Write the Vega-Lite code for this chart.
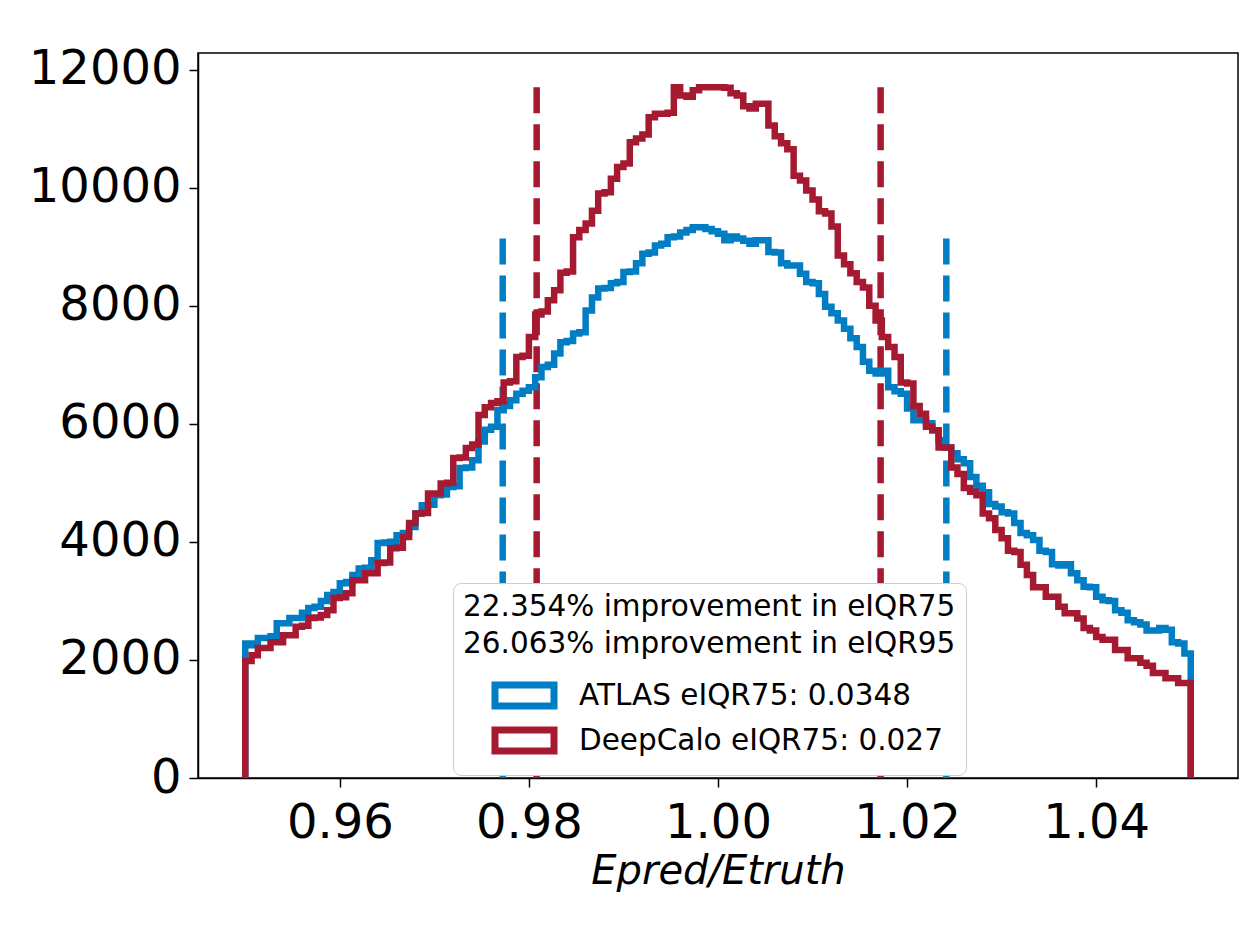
{
  "$schema": "https://vega.github.io/schema/vega-lite/v6.json",
  "width": 1040,
  "height": 725,
  "autosize": {"type": "none"},
  "padding": {"left": 198, "top": 53, "right": 16, "bottom": 148},
  "background": "white",
  "config": {
    "font": "DejaVu Sans",
    "view": {"stroke": "black", "strokeWidth": 1.5},
    "axis": {"grid": false, "domainColor": "black", "domainWidth": 1.5, "tickColor": "black", "tickWidth": 1.5, "tickSize": 9, "labelColor": "black", "labelFont": "DejaVu Sans", "labelFontSize": 48, "titleColor": "black", "titleFont": "DejaVu Sans"}
  },
  "datasets": {
    "iqr": [
      {"s": "ATLAS", "x": 0.97723, "top": 9140},
      {"s": "ATLAS", "x": 1.02415, "top": 9140},
      {"s": "DeepCalo", "x": 0.98082, "top": 11700},
      {"s": "DeepCalo", "x": 1.0172, "top": 11700}
    ],
    "hist": [
      {"i": 0, "e": 0.95, "ATLAS": 0, "DeepCalo": 0},
      {"i": 1, "e": 0.95, "ATLAS": 2280, "DeepCalo": 1980},
      {"i": 2, "e": 0.95067, "ATLAS": 2250, "DeepCalo": 2080},
      {"i": 3, "e": 0.95133, "ATLAS": 2370, "DeepCalo": 2200},
      {"i": 4, "e": 0.952, "ATLAS": 2370, "DeepCalo": 2200},
      {"i": 5, "e": 0.95267, "ATLAS": 2400, "DeepCalo": 2300},
      {"i": 6, "e": 0.95333, "ATLAS": 2620, "DeepCalo": 2300},
      {"i": 7, "e": 0.954, "ATLAS": 2620, "DeepCalo": 2420},
      {"i": 8, "e": 0.95467, "ATLAS": 2710, "DeepCalo": 2420},
      {"i": 9, "e": 0.95533, "ATLAS": 2710, "DeepCalo": 2560},
      {"i": 10, "e": 0.956, "ATLAS": 2800, "DeepCalo": 2580},
      {"i": 11, "e": 0.95667, "ATLAS": 2880, "DeepCalo": 2710},
      {"i": 12, "e": 0.95733, "ATLAS": 2900, "DeepCalo": 2720},
      {"i": 13, "e": 0.958, "ATLAS": 3000, "DeepCalo": 2760},
      {"i": 14, "e": 0.95867, "ATLAS": 3100, "DeepCalo": 2840},
      {"i": 15, "e": 0.95933, "ATLAS": 3150, "DeepCalo": 3050},
      {"i": 16, "e": 0.96, "ATLAS": 3300, "DeepCalo": 3060},
      {"i": 17, "e": 0.96067, "ATLAS": 3320, "DeepCalo": 3130},
      {"i": 18, "e": 0.96133, "ATLAS": 3440, "DeepCalo": 3350},
      {"i": 19, "e": 0.962, "ATLAS": 3550, "DeepCalo": 3350},
      {"i": 20, "e": 0.96267, "ATLAS": 3560, "DeepCalo": 3470},
      {"i": 21, "e": 0.96333, "ATLAS": 3690, "DeepCalo": 3470},
      {"i": 22, "e": 0.964, "ATLAS": 3980, "DeepCalo": 3640},
      {"i": 23, "e": 0.96467, "ATLAS": 3990, "DeepCalo": 3650},
      {"i": 24, "e": 0.96533, "ATLAS": 4000, "DeepCalo": 3890},
      {"i": 25, "e": 0.966, "ATLAS": 4110, "DeepCalo": 3900},
      {"i": 26, "e": 0.96667, "ATLAS": 4150, "DeepCalo": 4080},
      {"i": 27, "e": 0.96733, "ATLAS": 4250, "DeepCalo": 4320},
      {"i": 28, "e": 0.968, "ATLAS": 4480, "DeepCalo": 4480},
      {"i": 29, "e": 0.96867, "ATLAS": 4620, "DeepCalo": 4490},
      {"i": 30, "e": 0.96933, "ATLAS": 4630, "DeepCalo": 4820},
      {"i": 31, "e": 0.97, "ATLAS": 4790, "DeepCalo": 4820},
      {"i": 32, "e": 0.97067, "ATLAS": 4800, "DeepCalo": 4990},
      {"i": 33, "e": 0.97133, "ATLAS": 4930, "DeepCalo": 5000},
      {"i": 34, "e": 0.972, "ATLAS": 4940, "DeepCalo": 5420},
      {"i": 35, "e": 0.97267, "ATLAS": 5250, "DeepCalo": 5430},
      {"i": 36, "e": 0.97333, "ATLAS": 5260, "DeepCalo": 5590},
      {"i": 37, "e": 0.974, "ATLAS": 5380, "DeepCalo": 5650},
      {"i": 38, "e": 0.97467, "ATLAS": 5700, "DeepCalo": 6150},
      {"i": 39, "e": 0.97533, "ATLAS": 5900, "DeepCalo": 6280},
      {"i": 40, "e": 0.976, "ATLAS": 5950, "DeepCalo": 6350},
      {"i": 41, "e": 0.97667, "ATLAS": 6230, "DeepCalo": 6380},
      {"i": 42, "e": 0.97733, "ATLAS": 6300, "DeepCalo": 6700},
      {"i": 43, "e": 0.978, "ATLAS": 6400, "DeepCalo": 6720},
      {"i": 44, "e": 0.97867, "ATLAS": 6510, "DeepCalo": 7130},
      {"i": 45, "e": 0.97933, "ATLAS": 6560, "DeepCalo": 7150},
      {"i": 46, "e": 0.98, "ATLAS": 6620, "DeepCalo": 7470},
      {"i": 47, "e": 0.98067, "ATLAS": 6790, "DeepCalo": 7850},
      {"i": 48, "e": 0.98133, "ATLAS": 6960, "DeepCalo": 7900},
      {"i": 49, "e": 0.982, "ATLAS": 7000, "DeepCalo": 8090},
      {"i": 50, "e": 0.98267, "ATLAS": 7190, "DeepCalo": 8260},
      {"i": 51, "e": 0.98333, "ATLAS": 7380, "DeepCalo": 8560},
      {"i": 52, "e": 0.984, "ATLAS": 7400, "DeepCalo": 8580},
      {"i": 53, "e": 0.98467, "ATLAS": 7530, "DeepCalo": 9160},
      {"i": 54, "e": 0.98533, "ATLAS": 7550, "DeepCalo": 9280},
      {"i": 55, "e": 0.986, "ATLAS": 7920, "DeepCalo": 9390},
      {"i": 56, "e": 0.98667, "ATLAS": 8140, "DeepCalo": 9610},
      {"i": 57, "e": 0.98733, "ATLAS": 8290, "DeepCalo": 9900},
      {"i": 58, "e": 0.988, "ATLAS": 8300, "DeepCalo": 9920},
      {"i": 59, "e": 0.98867, "ATLAS": 8380, "DeepCalo": 10150},
      {"i": 60, "e": 0.98933, "ATLAS": 8400, "DeepCalo": 10350},
      {"i": 61, "e": 0.99, "ATLAS": 8570, "DeepCalo": 10410},
      {"i": 62, "e": 0.99067, "ATLAS": 8580, "DeepCalo": 10770},
      {"i": 63, "e": 0.99133, "ATLAS": 8720, "DeepCalo": 10830},
      {"i": 64, "e": 0.992, "ATLAS": 8880, "DeepCalo": 10900},
      {"i": 65, "e": 0.99267, "ATLAS": 8900, "DeepCalo": 11190},
      {"i": 66, "e": 0.99333, "ATLAS": 9020, "DeepCalo": 11250},
      {"i": 67, "e": 0.994, "ATLAS": 9050, "DeepCalo": 11250},
      {"i": 68, "e": 0.99467, "ATLAS": 9160, "DeepCalo": 11270},
      {"i": 69, "e": 0.99533, "ATLAS": 9170, "DeepCalo": 11700},
      {"i": 70, "e": 0.996, "ATLAS": 9240, "DeepCalo": 11560},
      {"i": 71, "e": 0.99667, "ATLAS": 9280, "DeepCalo": 11540},
      {"i": 72, "e": 0.99733, "ATLAS": 9330, "DeepCalo": 11650},
      {"i": 73, "e": 0.998, "ATLAS": 9330, "DeepCalo": 11700},
      {"i": 74, "e": 0.99867, "ATLAS": 9300, "DeepCalo": 11700},
      {"i": 75, "e": 0.99933, "ATLAS": 9260, "DeepCalo": 11700},
      {"i": 76, "e": 1.0, "ATLAS": 9220, "DeepCalo": 11700},
      {"i": 77, "e": 1.00067, "ATLAS": 9110, "DeepCalo": 11690},
      {"i": 78, "e": 1.00133, "ATLAS": 9170, "DeepCalo": 11600},
      {"i": 79, "e": 1.002, "ATLAS": 9140, "DeepCalo": 11560},
      {"i": 80, "e": 1.00267, "ATLAS": 9100, "DeepCalo": 11380},
      {"i": 81, "e": 1.00333, "ATLAS": 9050, "DeepCalo": 11340},
      {"i": 82, "e": 1.004, "ATLAS": 9110, "DeepCalo": 11420},
      {"i": 83, "e": 1.00467, "ATLAS": 9110, "DeepCalo": 11420},
      {"i": 84, "e": 1.00533, "ATLAS": 8910, "DeepCalo": 11050},
      {"i": 85, "e": 1.006, "ATLAS": 8900, "DeepCalo": 10870},
      {"i": 86, "e": 1.00667, "ATLAS": 8720, "DeepCalo": 10750},
      {"i": 87, "e": 1.00733, "ATLAS": 8680, "DeepCalo": 10650},
      {"i": 88, "e": 1.008, "ATLAS": 8680, "DeepCalo": 10200},
      {"i": 89, "e": 1.00867, "ATLAS": 8540, "DeepCalo": 10120},
      {"i": 90, "e": 1.00933, "ATLAS": 8400, "DeepCalo": 9950},
      {"i": 91, "e": 1.01, "ATLAS": 8380, "DeepCalo": 9800},
      {"i": 92, "e": 1.01067, "ATLAS": 8200, "DeepCalo": 9600},
      {"i": 93, "e": 1.01133, "ATLAS": 7980, "DeepCalo": 9560},
      {"i": 94, "e": 1.012, "ATLAS": 7870, "DeepCalo": 9340},
      {"i": 95, "e": 1.01267, "ATLAS": 7750, "DeepCalo": 8850},
      {"i": 96, "e": 1.01333, "ATLAS": 7610, "DeepCalo": 8700},
      {"i": 97, "e": 1.014, "ATLAS": 7450, "DeepCalo": 8550},
      {"i": 98, "e": 1.01467, "ATLAS": 7300, "DeepCalo": 8400},
      {"i": 99, "e": 1.01533, "ATLAS": 7050, "DeepCalo": 8310},
      {"i": 100, "e": 1.016, "ATLAS": 6900, "DeepCalo": 8000},
      {"i": 101, "e": 1.01667, "ATLAS": 6850, "DeepCalo": 7750},
      {"i": 102, "e": 1.01733, "ATLAS": 6900, "DeepCalo": 7470},
      {"i": 103, "e": 1.018, "ATLAS": 6620, "DeepCalo": 7300},
      {"i": 104, "e": 1.01867, "ATLAS": 6550, "DeepCalo": 7130},
      {"i": 105, "e": 1.01933, "ATLAS": 6510, "DeepCalo": 6700},
      {"i": 106, "e": 1.02, "ATLAS": 6260, "DeepCalo": 6680},
      {"i": 107, "e": 1.02067, "ATLAS": 6060, "DeepCalo": 6300},
      {"i": 108, "e": 1.02133, "ATLAS": 6060, "DeepCalo": 6170},
      {"i": 109, "e": 1.022, "ATLAS": 6010, "DeepCalo": 5950},
      {"i": 110, "e": 1.02267, "ATLAS": 5890, "DeepCalo": 5890},
      {"i": 111, "e": 1.02333, "ATLAS": 5720, "DeepCalo": 5600},
      {"i": 112, "e": 1.024, "ATLAS": 5600, "DeepCalo": 5600},
      {"i": 113, "e": 1.02467, "ATLAS": 5500, "DeepCalo": 5260},
      {"i": 114, "e": 1.02533, "ATLAS": 5400, "DeepCalo": 5150},
      {"i": 115, "e": 1.026, "ATLAS": 5330, "DeepCalo": 4910},
      {"i": 116, "e": 1.02667, "ATLAS": 5100, "DeepCalo": 4850},
      {"i": 117, "e": 1.02733, "ATLAS": 4950, "DeepCalo": 4790},
      {"i": 118, "e": 1.028, "ATLAS": 4840, "DeepCalo": 4480},
      {"i": 119, "e": 1.02867, "ATLAS": 4640, "DeepCalo": 4400},
      {"i": 120, "e": 1.02933, "ATLAS": 4600, "DeepCalo": 4200},
      {"i": 121, "e": 1.03, "ATLAS": 4500, "DeepCalo": 4060},
      {"i": 122, "e": 1.03067, "ATLAS": 4480, "DeepCalo": 3850},
      {"i": 123, "e": 1.03133, "ATLAS": 4320, "DeepCalo": 3830},
      {"i": 124, "e": 1.032, "ATLAS": 4150, "DeepCalo": 3610},
      {"i": 125, "e": 1.03267, "ATLAS": 4110, "DeepCalo": 3440},
      {"i": 126, "e": 1.03333, "ATLAS": 4030, "DeepCalo": 3230},
      {"i": 127, "e": 1.034, "ATLAS": 3850, "DeepCalo": 3230},
      {"i": 128, "e": 1.03467, "ATLAS": 3830, "DeepCalo": 3070},
      {"i": 129, "e": 1.03533, "ATLAS": 3620, "DeepCalo": 3070},
      {"i": 130, "e": 1.036, "ATLAS": 3600, "DeepCalo": 2900},
      {"i": 131, "e": 1.03667, "ATLAS": 3620, "DeepCalo": 2790},
      {"i": 132, "e": 1.03733, "ATLAS": 3470, "DeepCalo": 2790},
      {"i": 133, "e": 1.038, "ATLAS": 3350, "DeepCalo": 2700},
      {"i": 134, "e": 1.03867, "ATLAS": 3240, "DeepCalo": 2540},
      {"i": 135, "e": 1.03933, "ATLAS": 3230, "DeepCalo": 2500},
      {"i": 136, "e": 1.04, "ATLAS": 3070, "DeepCalo": 2390},
      {"i": 137, "e": 1.04067, "ATLAS": 3010, "DeepCalo": 2340},
      {"i": 138, "e": 1.04133, "ATLAS": 3000, "DeepCalo": 2340},
      {"i": 139, "e": 1.042, "ATLAS": 2840, "DeepCalo": 2170},
      {"i": 140, "e": 1.04267, "ATLAS": 2800, "DeepCalo": 2170},
      {"i": 141, "e": 1.04333, "ATLAS": 2670, "DeepCalo": 2030},
      {"i": 142, "e": 1.044, "ATLAS": 2640, "DeepCalo": 2030},
      {"i": 143, "e": 1.04467, "ATLAS": 2600, "DeepCalo": 1950},
      {"i": 144, "e": 1.04533, "ATLAS": 2500, "DeepCalo": 1900},
      {"i": 145, "e": 1.046, "ATLAS": 2500, "DeepCalo": 1780},
      {"i": 146, "e": 1.04667, "ATLAS": 2540, "DeepCalo": 1780},
      {"i": 147, "e": 1.04733, "ATLAS": 2510, "DeepCalo": 1690},
      {"i": 148, "e": 1.048, "ATLAS": 2300, "DeepCalo": 1690},
      {"i": 149, "e": 1.04867, "ATLAS": 2280, "DeepCalo": 1610},
      {"i": 150, "e": 1.04933, "ATLAS": 2110, "DeepCalo": 1610},
      {"i": 151, "e": 1.05, "ATLAS": 2110, "DeepCalo": 1610},
      {"i": 152, "e": 1.05, "ATLAS": 0, "DeepCalo": 0}
    ]
  },
  "layer": [
    {
      "data": {"name": "iqr"},
      "mark": {"type": "rule", "strokeWidth": 6.5, "strokeDash": [26, 11], "strokeCap": "butt"},
      "encoding": {
        "x": {"field": "x", "type": "quantitative", "scale": {"domain": [0.945, 1.055], "nice": false, "zero": false}, "axis": {"title": "Epred/Etruth", "values": [0.96, 0.98, 1.0, 1.02, 1.04], "format": ".2f", "labelPadding": 12, "titleFontSize": 40, "titleFontStyle": "italic", "titleFontWeight": "normal", "titlePadding": 4}},
        "y": {"field": "top", "type": "quantitative", "scale": {"domain": [0, 12280], "nice": false}, "axis": {"title": null, "values": [0, 2000, 4000, 6000, 8000, 10000, 12000], "format": "d", "labelPadding": 8}},
        "y2": {"datum": 0},
        "color": {"field": "s", "type": "nominal"}
      }
    },
    {
      "data": {"name": "hist"},
      "transform": [{"fold": ["ATLAS", "DeepCalo"], "as": ["s", "v"]}],
      "mark": {"type": "line", "interpolate": "step-after", "strokeWidth": 6.5, "strokeJoin": "miter", "strokeCap": "butt", "clip": true},
      "encoding": {
        "x": {"field": "e", "type": "quantitative", "scale": {"domain": [0.945, 1.055], "nice": false, "zero": false}, "axis": {"title": "Epred/Etruth", "values": [0.96, 0.98, 1.0, 1.02, 1.04], "format": ".2f", "labelPadding": 12, "titleFontSize": 40, "titleFontStyle": "italic", "titleFontWeight": "normal", "titlePadding": 4}},
        "y": {"field": "v", "type": "quantitative", "scale": {"domain": [0, 12280], "nice": false}, "axis": {"title": null, "values": [0, 2000, 4000, 6000, 8000, 10000, 12000], "format": "d", "labelPadding": 8}},
        "order": {"field": "i", "type": "quantitative"},
        "color": {
          "field": "s",
          "type": "nominal",
          "scale": {"domain": ["ATLAS", "DeepCalo"], "range": ["#007DC3", "#A51931"]},
          "legend": {
            "title": ["22.354% improvement in eIQR75", "26.063% improvement in eIQR95"],
            "orient": "none",
            "legendX": 255,
            "legendY": 530,
            "titleFontSize": 29.5,
            "titleFontWeight": "normal",
            "titleColor": "black",
            "titleFont": "DejaVu Sans",
            "titleLineHeight": 36.5,
            "titlePadding": 18,
            "titleLimit": 900,
            "titleAlign": "left",
            "titleAnchor": "start",
            "labelFontSize": 29.5,
            "labelColor": "black",
            "labelFont": "DejaVu Sans",
            "labelLimit": 900,
            "labelOffset": 36,
            "labelExpr": "datum.label == 'ATLAS' ? 'ATLAS eIQR75: 0.0348' : 'DeepCalo eIQR75: 0.027'",
            "symbolType": "M-1.967,-0.7H1.967V0.7H-1.967Z",
            "symbolSize": 900,
            "symbolStrokeWidth": 7,
            "symbolFillColor": "white",
            "symbolOffset": 43,
            "rowPadding": -4,
            "padding": 10,
            "fillColor": "white",
            "strokeColor": "#cccccc",
            "cornerRadius": 8
          }
        }
      }
    }
  ]
}
